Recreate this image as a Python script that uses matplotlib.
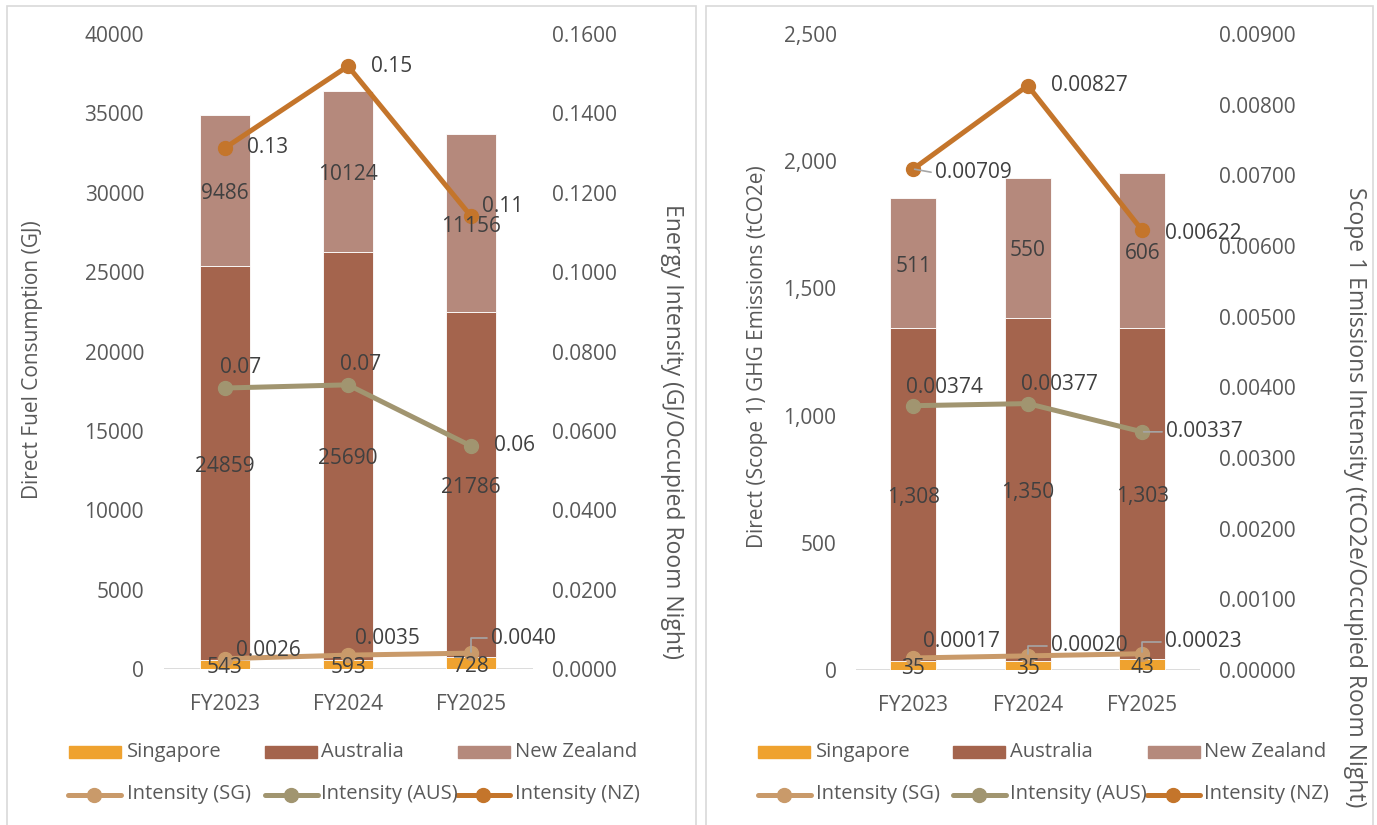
import matplotlib
matplotlib.use('Agg')
import matplotlib.pyplot as plt
from matplotlib.patches import Rectangle
from matplotlib.lines import Line2D
from matplotlib.ticker import FuncFormatter, MultipleLocator

plt.rcParams['font.family'] = ['Open Sans', 'DejaVu Sans']

W, H = 1377, 825
FS = 15
LEG_FS = 14.5
TITLE2_FS = 16.5

YEARS = ['FY2023', 'FY2024', 'FY2025']

# Direct fuel consumption (GJ) by country
fuel_sg = [543, 593, 728]
fuel_aus = [24859, 25690, 21786]
fuel_nz = [9486, 10124, 11156]

# Energy intensity (GJ / occupied room night)
energy_int_sg = [0.0026, 0.0035, 0.0040]
energy_int_aus = [0.0708, 0.0716, 0.0562]
energy_int_nz = [0.1313, 0.1519, 0.1141]

# Direct (scope 1) GHG emissions (tCO2e)
ghg_sg = [35, 35, 43]
ghg_aus = [1308, 1350, 1303]
ghg_nz = [511, 550, 606]

# Scope 1 intensity (tCO2e / occupied room night)
ghg_int_sg = [0.00017, 0.00020, 0.00023]
ghg_int_aus = [0.00374, 0.00377, 0.00337]
ghg_int_nz = [0.00709, 0.00827, 0.00622]

BAR_NAMES = ['Singapore', 'Australia', 'New Zealand']
LINE_NAMES = ['Intensity (SG)', 'Intensity (AUS)', 'Intensity (NZ)']
BAR_COLORS = ['#EFA22F', '#A4644D', '#B5897C']
LINE_COLORS = ['#C99A6A', '#A19570', '#C4752B']
TICK_COLOR = '#595959'
LABEL_COLOR = '#404040'
LEADER_COLOR = '#A6A6A6'


def fx(x):
    return x / W


def fy(y):
    return 1 - y / H


def draw_panel(fig, rect, bars, lines, ylim, ystep, y2lim, y2step,
               left_fmt, right_fmt, bar_fmt, line_fmts, offsets, leaders):
    x0, y0, x1, y1 = rect
    ax = fig.add_axes([fx(x0), fy(y1), fx(x1 - x0), (y1 - y0) / H])
    ax2 = ax.twinx()
    xs = range(len(YEARS))

    bottom = [0] * len(YEARS)
    for vals, col in zip(bars, BAR_COLORS):
        ax.bar(xs, vals, 0.4, bottom=bottom, color=col,
               edgecolor='white', linewidth=0.6, zorder=2)
        # segment labels sit on top of the lines, so put them on ax2
        for i, (b, v) in enumerate(zip(bottom, vals)):
            ax2.annotate(bar_fmt(v), (i, b + v / 2), xycoords=ax.transData,
                         xytext=(0, -3), textcoords='offset pixels',
                         ha='center', va='center', fontsize=FS,
                         color=LABEL_COLOR, zorder=5)
        bottom = [b + v for b, v in zip(bottom, vals)]

    for k, (vals, col) in enumerate(zip(lines, LINE_COLORS)):
        ax2.plot(xs, vals, color=col, lw=3.6, marker='o', ms=10,
                 solid_capstyle='round', zorder=3)
        for i, v in enumerate(vals):
            dx, dy, ha = offsets[k][i]
            arrow = None
            if (k, i) in leaders:
                arrow = dict(arrowstyle='-', color=LEADER_COLOR, lw=1.2,
                             shrinkA=1, shrinkB=1, relpos=(0, 0.5),
                             connectionstyle=leaders[(k, i)])
            ax2.annotate(line_fmts[k](v), (i, v), xytext=(dx, dy),
                         textcoords='offset pixels', ha=ha, va='center',
                         fontsize=FS, color=LABEL_COLOR, arrowprops=arrow,
                         zorder=4)

    ax.set_xlim(-0.5, len(YEARS) - 0.5)
    ax.set_ylim(*ylim)
    ax2.set_ylim(*y2lim)
    ax.yaxis.set_major_locator(MultipleLocator(ystep))
    ax2.yaxis.set_major_locator(MultipleLocator(y2step))
    ax.yaxis.set_major_formatter(FuncFormatter(lambda v, p: left_fmt(v)))
    ax2.yaxis.set_major_formatter(FuncFormatter(lambda v, p: right_fmt(v)))
    ax.set_xticks(list(xs))
    ax.set_xticklabels(YEARS)

    for a in (ax, ax2):
        for s in a.spines.values():
            s.set_visible(False)
        a.tick_params(length=0, labelsize=FS, colors=TICK_COLOR, pad=14)
        a.set_facecolor('none')
    ax.tick_params(axis='x', pad=18)
    ax.axhline(0, color='#D9D9D9', lw=1.3, zorder=1)
    return ax, ax2


def draw_legend(fig, patch_x, text_x):
    for name, col, px, tx in zip(BAR_NAMES, BAR_COLORS, patch_x[0], text_x[0]):
        fig.add_artist(Rectangle((fx(px), fy(758)), fx(52), 12 / H,
                                 transform=fig.transFigure, color=col))
        fig.text(fx(tx), fy(752), name, fontsize=LEG_FS, color=TICK_COLOR,
                 va='center', ha='left')
    for name, col, px, tx in zip(LINE_NAMES, LINE_COLORS, patch_x[1], text_x[1]):
        fig.add_artist(Line2D([fx(px), fx(px + 26), fx(px + 53)],
                              [fy(795)] * 3, transform=fig.transFigure,
                              color=col, lw=3.6, marker='o', ms=10,
                              markevery=[1], solid_capstyle='round'))
        fig.text(fx(tx), fy(794), name, fontsize=LEG_FS, color=TICK_COLOR,
                 va='center', ha='left')


fig = plt.figure(figsize=(W / 100, H / 100), dpi=100)

# panel frames
for px0, px1 in [(7, 696), (706, 1373)]:
    fig.add_artist(Rectangle((fx(px0), fy(840)), fx(px1 - px0), 834 / H,
                             transform=fig.transFigure, fill=False,
                             ec='#D9D9D9', lw=1.2))

# ---- left panel: fuel consumption ----
left_offsets = [
    [(11, 8, 'left'), (7, 17, 'left'), (20, 15, 'left')],      # SG
    [(16, 21, 'center'), (13, 20, 'center'), (23, 0, 'left')],  # AUS
    [(22, 0, 'left'), (23, 0, 'left'), (11, 10, 'left')],       # NZ
]
left_leaders = {(0, 2): 'angle,angleA=0,angleB=90,rad=0'}
draw_panel(fig, (163.5, 34, 532.5, 669),
           [fuel_sg, fuel_aus, fuel_nz],
           [energy_int_sg, energy_int_aus, energy_int_nz],
           (0, 40000), 5000, (0, 0.16), 0.02,
           lambda v: f'{v:.0f}', lambda v: f'{v:.4f}',
           lambda v: f'{v:.0f}',
           [lambda v: f'{v:.4f}', lambda v: f'{v:.2f}', lambda v: f'{v:.2f}'],
           left_offsets, left_leaders)
fig.text(fx(33), fy(360), 'Direct Fuel Consumption (GJ)', rotation=90,
         fontsize=FS, color=TICK_COLOR, ha='center', va='center')
fig.text(fx(672), fy(431), 'Energy Intensity (GJ/Occupied Room Night)',
         rotation=270, fontsize=TITLE2_FS, color=TICK_COLOR,
         ha='center', va='center')
draw_legend(fig, [(69, 265, 458), (68, 265, 457)],
            [(127, 321, 515), (127, 321, 515)])

# ---- right panel: scope 1 emissions ----
right_offsets = [
    [(10, 16, 'left'), (23, 10, 'left'), (23, 12, 'left')],         # SG
    [(31, 18, 'center'), (32, 19, 'center'), (24, 0, 'left')],      # AUS
    [(22, -4, 'left'), (23, 0, 'left'), (23, -3, 'left')],          # NZ
]
right_leaders = {
    (0, 1): 'angle,angleA=0,angleB=90,rad=0',
    (0, 2): 'angle,angleA=0,angleB=90,rad=0',
    (1, 2): 'arc3',
    (2, 0): 'arc3',
}
draw_panel(fig, (856, 34, 1199.5, 670),
           [ghg_sg, ghg_aus, ghg_nz],
           [ghg_int_sg, ghg_int_aus, ghg_int_nz],
           (0, 2500), 500, (0, 0.009), 0.001,
           lambda v: f'{v:,.0f}', lambda v: f'{v:.5f}',
           lambda v: f'{v:,.0f}',
           [lambda v: f'{v:.5f}'] * 3,
           right_offsets, right_leaders)
fig.text(fx(758), fy(357), 'Direct (Scope 1) GHG Emissions (tCO2e)',
         rotation=90, fontsize=FS, color=TICK_COLOR, ha='center', va='center')
fig.text(fx(1355), fy(497),
         'Scope 1 Emissions Intensity (tCO2e/Occupied Room Night)',
         rotation=270, fontsize=TITLE2_FS, color=TICK_COLOR,
         ha='center', va='center')
draw_legend(fig, [(758, 953, 1148), (758, 953, 1147)],
            [(816, 1010, 1204), (816, 1010, 1204)])

fig.savefig('out.png', dpi=100)
